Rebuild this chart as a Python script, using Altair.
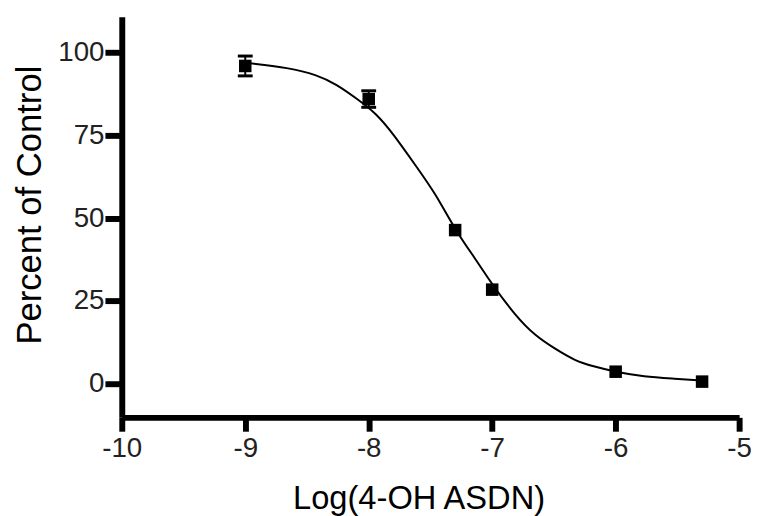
import altair as alt
import pandas as pd

# Measured data points (mean +/- error)
log_conc = [-9.0, -8.0, -7.3, -7.0, -6.0, -5.3]
pct_mean = [96.0, 86.0, 46.4, 28.4, 3.6, 0.6]
pct_err = [3.0, 2.5, 0.0, 0.0, 0.0, 0.0]

# Fitted curve
curve_x = [-9.0, -8.93, -8.66, -8.42, -8.26, -8.1, -7.94, -7.8, -7.62, -7.46, -7.3,
           -7.13, -7.01, -6.81, -6.65, -6.49, -6.33, -6.17, -6.01, -5.77, -5.52, -5.3]
curve_y = [97.0, 96.7, 95.5, 93.4, 90.4, 86.2, 81.7, 75.4, 65.9, 57.5, 46.4,
           37.4, 30.5, 20.4, 14.4, 10.5, 6.9, 5.1, 3.6, 2.1, 1.5, 0.9]

x_ticks = [-10, -9, -8, -7, -6, -5]
y_ticks = [0, 25, 50, 75, 100]

pts = pd.DataFrame({"x": log_conc, "y": pct_mean, "err": pct_err})
pts["lo"] = pts["y"] - pts["err"]
pts["hi"] = pts["y"] + pts["err"]
with_err = pts[pts["err"] > 0]
caps = pd.concat([
    pd.DataFrame({"x": with_err["x"], "y": with_err["lo"]}),
    pd.DataFrame({"x": with_err["x"], "y": with_err["hi"]}),
])
curve = pd.DataFrame({"x": curve_x, "y": curve_y})

FONT = "Liberation Sans"

xscale = alt.Scale(domain=[-10, -5], nice=False, zero=False)
yscale = alt.Scale(domain=[-10.2, 110.9], nice=False, zero=False)

xaxis = alt.Axis(
    values=x_ticks, labelExpr="'' + datum.value", grid=False, labelFlush=False,
    domainColor="black", domainWidth=6, tickColor="black", tickWidth=6, tickSize=14,
    labelFont=FONT, labelFontSize=28, labelColor="#222", labelPadding=4,
    title="Log(4-OH ASDN)", titleFont=FONT, titleFontSize=33, titleFontWeight="normal",
    titleColor="black", titleX=300, titleY=92, titleBaseline="alphabetic", titleAlign="center",
)
yaxis = alt.Axis(
    values=y_ticks, labelExpr="'' + datum.value", grid=False, labelFlush=False,
    domainColor="black", domainWidth=6, tickColor="black", tickWidth=6, tickSize=17,
    labelFont=FONT, labelFontSize=28, labelColor="#222", labelPadding=1,
    title="Percent of Control", titleFont=FONT, titleFontSize=35, titleFontWeight="normal",
    titleColor="black", titleAngle=270, titleX=-93, titleY=190,
    titleBaseline="middle", titleAlign="center",
)

line = alt.Chart(curve).mark_line(color="black", strokeWidth=2, interpolate="basis").encode(
    x=alt.X("x:Q", scale=xscale, axis=xaxis),
    y=alt.Y("y:Q", scale=yscale, axis=yaxis),
)
rules = alt.Chart(with_err).mark_rule(color="black", strokeWidth=2).encode(
    x="x:Q", y="lo:Q", y2="hi:Q"
)
cap_ticks = alt.Chart(caps).mark_tick(color="black", orient="horizontal", size=15, thickness=3, opacity=1).encode(
    x="x:Q", y="y:Q"
)
points = alt.Chart(pts).mark_square(color="black", size=160, opacity=1).encode(
    x="x:Q", y="y:Q"
)

chart = alt.layer(line, rules, cap_ticks, points).properties(
    width=624, height=405,
    autosize=alt.AutoSizeParams(type="none"),
    padding={"left": 115, "top": 6, "right": 12, "bottom": 102},
).configure_view(stroke=None)

chart.save("out.html", embed_options={"renderer": "svg", "actions": False})
